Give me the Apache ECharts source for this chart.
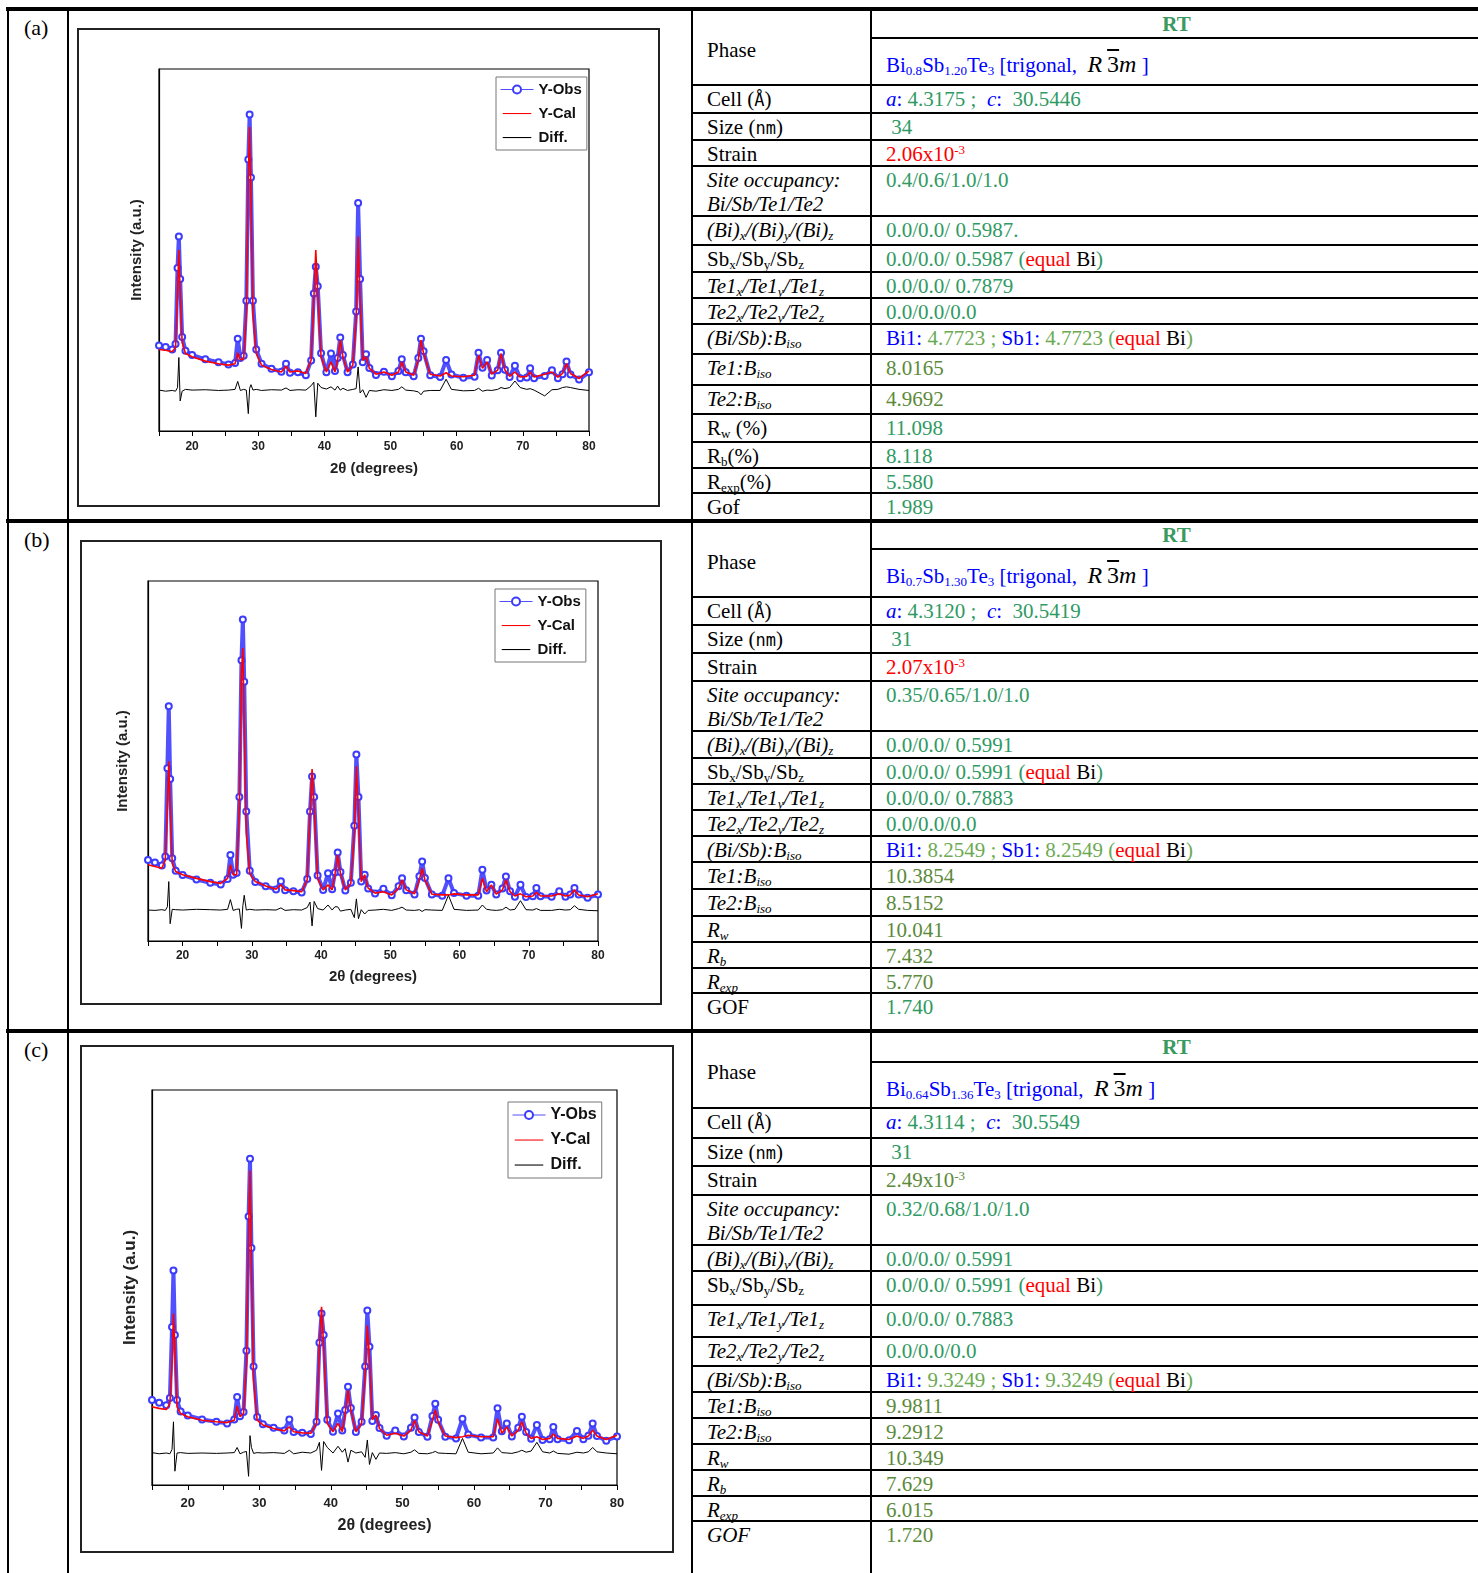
<!DOCTYPE html>
<html>
<head>
<meta charset="utf-8">
<script src="https://cdn.jsdelivr.net/npm/echarts/dist/echarts.min.js"></script>
<style>
html,body{margin:0;padding:0;background:#fff;}
#page{position:relative;width:1478px;height:1573px;overflow:hidden;background:#fff;}
.ln{position:absolute;background:#000;}
.txt{position:absolute;white-space:nowrap;font-family:"Liberation Serif","Times New Roman",serif;font-size:21px;line-height:26px;color:#000;}
.txt sub{font-size:0.62em;vertical-align:-0.22em;line-height:0;}
.txt sup{font-size:0.62em;vertical-align:0.55em;line-height:0;}
.mono{font-family:"DejaVu Sans Mono","Liberation Mono",monospace;font-size:17px;}
.frame{position:absolute;border:2px solid #222;box-sizing:border-box;pointer-events:none;}
.chart{position:absolute;}
.sg{color:#000;font-size:24px;}
</style>
</head>
<body>
<div id="page"></div>
<script>
// ---------------- DATA ----------------
// shared 2theta positions (degrees)
const X = [15,16,17,17.5,17.8,18.0,18.2,18.5,19,20,
 22,24,25.5,26.5,26.9,27.3,27.8,28.2,28.5,28.7,
 28.9,29.2,29.7,30.5,32,33.5,34.2,34.8,36,37.2,
 38.0,38.4,38.7,39.0,39.5,40.3,41.0,41.6,42.0,42.4,
 42.8,43.5,44.3,44.8,45.1,45.4,45.8,46.3,46.8,47.8,
 49.0,50.2,51.2,51.7,52.3,53.5,54.2,54.6,55.0,56.0,
 57.5,58.4,59.2,61.0,62.7,63.3,63.9,64.6,65.3,66.2,
 66.7,67.3,68.0,68.8,69.6,70.6,71.1,71.7,73.3,74.4,
 75.3,76.0,76.6,77.2,78.5,80];

// panel (a)
const obsA = [23.6,23.2,22.5,24,45,53.7,42,26,22.2,21,
 19.8,19,18.4,18.8,25.5,20.2,20.8,36,75,87.4,
 70,36,22.5,18.6,17.2,16.4,18.6,16.1,16.2,15.4,
 19.5,38,45.4,40,21.5,16.2,21.4,16.6,20.2,25.8,
 21,16.2,18.4,33,63,42,19,21.2,17.4,15.5,
 16.4,15.1,16.6,19.8,16.2,15.1,20.2,25.5,22,15.4,
 14.9,19.6,15.6,14.7,15,21.6,17.5,19.6,15.3,16.8,
 21.6,16.9,14.9,18,14.6,14.8,17.3,14.6,15.2,16.8,
 14.6,15.7,19.2,15.6,14.2,16.2];
const calA = [22.5,22.3,21.9,23.1,38,50,38,24.6,21.4,20.5,
 19.3,18.6,18.2,18.6,21.6,19.6,20,32.5,70,84,
 65.7,32.5,21.4,18.2,17,16.3,17.9,16.3,16.6,15.9,
 19.6,36.2,50,38,20.5,16.3,19.1,16.3,19.6,25.1,
 20.5,16.3,18.2,30.6,53.7,36.2,19.5,20.5,17.3,15.7,
 16.3,15.4,16.3,19.1,16.3,15.4,19.6,25.1,21.4,15.7,
 15.2,16.1,15.2,15,15.4,20.9,17.3,19.1,15.7,16.8,
 21.4,16.8,15.1,16.3,14.9,15.1,16.3,14.9,15.7,16.3,
 14.9,15.9,18.6,15.9,14.5,16.6];
const diffA = [11.3,11.0,11.2,11.0,12,20.3,8.3,11,11.5,11.3,
 11.4,11.2,11.3,11.5,13.7,11.2,11.5,11.3,4.8,11.8,
 12.8,11.3,11.5,11.2,11.4,11.3,11.9,11.2,11.4,11.3,
 12.5,13.5,3.9,13.2,12,11.6,12.2,11.3,12.4,11.3,
 11.8,11.2,11.5,11.7,17.7,10.5,11.4,9.3,11.2,11,
 11.4,11.2,11.5,12.2,11.3,11.1,10.8,10,11,11.2,
 11.2,14.3,11.5,11.1,11.2,11.8,11,11.3,11.2,11.5,
 12,11.7,12,13.8,12,11.5,11.7,11.3,9.7,11.4,
 11.5,12,12.2,12,11.5,11.2];

// panel (b)
const obsB = [22.5,21.8,21,23.5,48,65.2,45,23,19.5,18.3,
 17.1,16.2,15.7,17.2,23.9,18.4,18.9,40,78,89.3,
 72,36,19.5,16.4,15.2,14.3,16.6,14.1,13.8,13.5,
 17.2,36,45.7,40,18.2,14.2,18.8,14.4,19,24.6,
 19.2,14,16.2,32,51.8,40,16.5,18.4,14.6,13.2,
 14.5,12.7,15.2,17.4,14.1,12.9,18,22.1,17.5,12.9,
 12.6,17.4,13.3,12.6,12.6,19.8,14,15.6,12.9,14.6,
 17.9,13.8,12.3,15.6,12.2,12.4,14.7,12.4,12.3,13.8,
 12.3,12.9,14.7,12.9,12,12.9];
const calB = [21.2,20.7,20.2,22.5,37.4,49.9,37.4,21.6,19.3,18.4,
 17.4,16.5,16,17.4,21.2,18.4,18.4,37.4,74.5,81.4,
 60.6,30,18.8,16.5,15.3,14.4,15.6,14.2,14,13.7,
 17,35.5,47.8,37.4,17.4,14.2,15.6,14.2,18.4,23.9,
 18.8,14.2,16,30,48.5,35.5,16.5,18.4,14.7,13.3,
 13.7,12.8,14.7,17,14.2,13.1,17,20.2,17,13,
 12.8,12.8,13.1,12.8,12.8,17.4,13.7,15.6,13,14.2,
 17,13.7,12.5,13.1,12.3,12.5,13.5,12.5,12.5,13.1,
 12.5,12.8,14.2,12.8,12.3,13.1];
const diffB = [8.6,8.5,8.7,8.5,9.5,16.5,4.8,8.8,8.7,8.6,
 8.8,8.7,8.6,8.8,11.5,8.5,8.8,8.9,3.5,9.8,
 12.7,8.6,8.8,8.6,8.7,8.6,9.2,8.5,8.7,8.6,
 9.3,10.8,4.2,11,9,8.6,10,8.6,9.5,9.5,
 8.3,8.6,8.8,6.5,11.7,6.2,8.7,7.5,8.5,8.6,
 8.8,8.5,9,9.4,8.6,8.5,8.7,8.2,8.7,8.6,
 8.5,12.7,8.8,8.5,8.6,10,8.8,8.6,8.5,8.7,
 9.4,8.6,8.8,11.2,8.7,8.6,9,8.5,8.5,8.8,
 8.6,8.7,9.8,8.8,8.5,8.4];

// panel (c)
const obsC = [21.5,20.8,20.2,22,40,54.3,38,21.5,18.6,17.6,
 16.6,16,15.6,16.6,22.3,17.4,18.5,34,68,82.6,
 60,30,17.2,15.4,14.5,13.8,16.6,13.4,13.2,12.9,
 16,36,43.4,38,16.5,13.5,18.1,13.8,19,24.9,
 19.5,13.4,16,30,44.2,35,16.2,17.7,14.4,12.5,
 13.8,12.3,14.5,17.1,13.4,12.2,17.5,20.6,16.5,12.2,
 11.8,16.8,12.8,12,12,19.4,13.6,15.6,12.3,14.5,
 17.3,13.4,11.7,15.2,11.4,11.6,14.7,11.6,11.3,13.7,
 11.6,12.5,15.6,12.4,11.2,12.3];
const calC = [19.8,19.4,19.1,20.6,30.7,43.4,35,19.8,18.1,17.3,
 16.4,16,15.8,16.4,20,17.3,18.1,30.7,64.4,79.6,
 56,26.5,16.4,15.2,14.3,13.7,14.7,13.5,13.2,13.1,
 15.6,35,45.1,35,15.6,13.5,15.6,13.5,18.1,24,
 19,13.5,15.6,28.2,40.4,32.4,16.5,17.7,14.3,12.6,
 13.1,12.4,13.9,16.4,13.5,12.4,16.4,19,16,12.4,
 12,12.2,12.6,12.2,12.2,16.8,13.1,14.7,12.4,13.9,
 16,13.1,11.8,12.2,11.5,11.8,12.9,11.8,11.5,12.4,
 11.8,12.4,13.9,12.4,11.5,12.6];
const diffC = [8.2,7.9,8.1,7.9,9,16,3.5,8.1,8.2,8,
 8.1,8,8.1,8.2,9.5,7.9,8.3,8.5,2.2,12.5,
 9.5,8,8.2,8.1,8.2,8,8.8,7.9,8.3,8.1,
 8.8,10.8,3.7,11,9.5,8.1,9.8,8.3,9.2,5.8,
 8.8,8.1,8.4,7,11.4,5.2,8.2,6.5,8.1,8,
 8.2,7.9,8.3,8.9,8,7.9,8.2,8.5,8.1,8,
 7.9,11.8,8.3,7.9,8.1,9.4,8.2,8.1,8,8.4,
 8.8,8.3,8.6,10.8,8.4,8.1,8.6,8,7.8,8.3,
 8.1,8.4,9.5,8.4,8.1,7.9];

const xTickLabels = [20,30,40,50,60,70,80];
const seriesNames = ['Y-Obs','Y-Cal','Diff.'];
const panelLetters = ['(a)','(b)','(c)'];

// table text
const span = (c)=>(s)=>'<span style="color:'+c+'">'+s+'</span>';
const t = span('#2f9a63'), o = span('#5b8a3a'), l = span('#6caa52'), b = span('#0000ff'), r = span('#ff0000'), k = span('#000');
const sg = '<span class="sg"><i>R</i>&thinsp;<span style="text-decoration:overline">3</span><i>m</i></span>';
const formulas = [
 b('Bi<sub>0.8</sub>Sb<sub>1.20</sub>Te<sub>3</sub> [trigonal,&nbsp; ')+sg+b(' ]'),
 b('Bi<sub>0.7</sub>Sb<sub>1.30</sub>Te<sub>3</sub> [trigonal,&nbsp; ')+sg+b(' ]'),
 b('Bi<sub>0.64</sub>Sb<sub>1.36</sub>Te<sub>3</sub> [trigonal,&nbsp; ')+sg+b(' ]')
];
const commonLabels = [
 'Cell (<span class="mono">Å</span>)',
 'Size (<span class="mono">nm</span>)',
 'Strain',
 '<i>Site occupancy:<br>Bi/Sb/Te1/Te2</i>',
 '<i>(Bi)<sub>x</sub>/(Bi)<sub>y</sub>/(Bi)<sub>z</sub></i>',
 'Sb<sub>x</sub>/Sb<sub>y</sub>/Sb<sub>z</sub>',
 '<i>Te1<sub>x</sub>/Te1<sub>y</sub>/Te1<sub>z</sub></i>',
 '<i>Te2<sub>x</sub>/Te2<sub>y</sub>/Te2<sub>z</sub></i>',
 '<i>(Bi/Sb):B<sub>iso</sub></i>',
 '<i>Te1:B<sub>iso</sub></i>',
 '<i>Te2:B<sub>iso</sub></i>'];
const labelsA = commonLabels.concat(['R<sub>w</sub> (%)','R<sub>b</sub>(%)','R<sub>exp</sub>(%)','Gof']);
const labelsB = commonLabels.concat(['<i>R<sub>w</sub></i>','<i>R<sub>b</sub></i>','<i>R<sub>exp</sub></i>','GOF']);
const labelsC = commonLabels.concat(['<i>R<sub>w</sub></i>','<i>R<sub>b</sub></i>','<i>R<sub>exp</sub></i>','<i>GOF</i>']);
const cellV = (a,c)=>b('<i>a</i>:')+t(' '+a+' ;&nbsp; ')+b('<i>c</i>:')+t('&nbsp; '+c);
const bisoV = (v)=>b('Bi1:')+l(' '+v+' ; ')+b('Sb1:')+l(' '+v+' (')+r('equal')+k(' Bi')+l(')');
const sbV = (v,sp)=>t('0.0/0.0/ '+v+sp+'(')+r('equal')+k(' Bi')+t(')');
const valuesA = [cellV('4.3175','30.5446'), t('&nbsp;34'), r('2.06x10<sup>-3</sup>'), t('0.4/0.6/1.0/1.0'),
 t('0.0/0.0/ 0.5987.'), sbV('0.5987',' '), t('0.0/0.0/ 0.7879'), t('0.0/0.0/0.0'), bisoV('4.7723'),
 o('8.0165'), o('4.9692'), t('11.098'), t('8.118'), t('5.580'), t('1.989')];
const valuesB = [cellV('4.3120','30.5419'), t('&nbsp;31'), r('2.07x10<sup>-3</sup>'), t('0.35/0.65/1.0/1.0'),
 t('0.0/0.0/ 0.5991'), sbV('0.5991',' '), t('0.0/0.0/ 0.7883'), t('0.0/0.0/0.0'), bisoV('8.2549'),
 o('10.3854'), o('8.5152'), o('10.041'), o('7.432'), o('5.770'), t('1.740')];
const valuesC = [cellV('4.3114','30.5549'), t('&nbsp;31'), o('2.49x10<sup>-3</sup>'), t('0.32/0.68/1.0/1.0'),
 t('0.0/0.0/ 0.5991'), sbV('0.5991',' '), t('0.0/0.0/ 0.7883'), t('0.0/0.0/0.0'), bisoV('9.3249'),
 o('9.9811'), o('9.2912'), o('10.349'), o('7.629'), o('6.015'), o('1.720')];

// ---------------- LAYOUT ----------------
const page = document.getElementById('page');
function add(cls, css, html){const d=document.createElement('div');d.className=cls;Object.assign(d.style,css);if(html!==undefined)d.innerHTML=html;page.appendChild(d);return d;}
function hline(x1,x2,y,w){add('ln',{left:x1+'px',top:(y-w/2)+'px',width:(x2-x1)+'px',height:w+'px'});}
function vline(x,y1,y2,w){add('ln',{left:(x-w/2)+'px',top:y1+'px',width:w+'px',height:(y2-y1)+'px'});}

const tableLayouts = [
 {rows:[10,85,113,140,166,216,245,272,298,324,354,385,414,442,468,493,521], rt:38},
 {rows:[522,597,625,653,681,731,758,784,810,836,862,889,916,942,968,993,1031], rt:549},
 {rows:[1032,1108,1138,1166,1195,1245,1271,1305,1337,1366,1392,1418,1444,1470,1496,1521,1573], rt:1062}
];
const allLabels=[labelsA,labelsB,labelsC], allValues=[valuesA,valuesB,valuesC];

tableLayouts.forEach((L,p)=>{
  const R=L.rows;
  for(let i=1;i<R.length-1;i++) hline(692,1478,R[i],2);
  hline(871,1478,L.rt,2);
  add('txt',{left:'24px',top:(R[0]+5)+'px',fontSize:'22px'},panelLetters[p]);
  add('txt',{left:'707px',top:(R[0]+27)+'px'},'Phase');
  add('txt',{left:'873px',width:'607px',textAlign:'center',top:R[0]+'px',height:(L.rt-R[0])+'px',lineHeight:(L.rt-R[0])+'px',fontWeight:'bold',color:'#3a9a5f'},'RT');
  add('txt',{left:'886px',top:(L.rt+13)+'px'},formulas[p]);
  for(let i=0;i<15;i++){
    const top=R[i+1];
    const lh = (i===3)?'24px':'26px';
    const off = (i===3)?2:1;
    add('txt',{left:'707px',top:(top+off)+'px',lineHeight:lh},allLabels[p][i]);
    add('txt',{left:'886px',top:(top+off)+'px',lineHeight:lh},allValues[p][i]);
  }
});
hline(6,1478,9,4); hline(6,1478,521,4); hline(6,1478,1031,4);
vline(8,7,1573,2); vline(68,7,1573,2); vline(692,7,1573,2); vline(871,7,1573,2);

// ---------------- CHARTS ----------------
const panels = [
 {frame:[77,28,583,479], grid:{left:82,top:41,width:430,height:362}, legend:{left:419,top:49}, tick:12, xname:15, yname:15, leg:15, xgap:30, ygap:15, lab:10, obs:obsA, cal:calA, diff:diffA},
 {frame:[80,540,582,465], grid:{left:68,top:41,width:450,height:360}, legend:{left:415,top:49}, tick:12, xname:15, yname:15, leg:15, xgap:28, ygap:18, lab:9, obs:obsB, cal:calB, diff:diffB},
 {frame:[80,1045,594,508], grid:{left:72,top:45,width:465,height:395}, legend:{left:428,top:57}, tick:13, xname:16, yname:17, leg:16, xgap:33, ygap:13, lab:12, obs:obsC, cal:calC, diff:diffC}
];
const FONT = '"Liberation Sans", Arial, sans-serif';
const LINE_ICON = 'path://M0,0 M40,14 M0,6.3 L40,6.3 L40,7.8 L0,7.8 Z';
panels.forEach(P=>{
  const [fx,fy,fw,fh]=P.frame;
  const el = add('chart',{left:fx+'px',top:fy+'px',width:fw+'px',height:fh+'px'});
  add('frame',{left:fx+'px',top:fy+'px',width:fw+'px',height:fh+'px'});
  const ch = echarts.init(el,null,{renderer:'canvas'});
  const pts = (arr)=>X.map((x,i)=>[x,arr[i]]);
  ch.setOption({
    animation:false,
    grid:Object.assign({show:true,borderColor:'#000',borderWidth:1.2,backgroundColor:'transparent'},P.grid),
    legend:{data:[{name:seriesNames[0],lineStyle:{width:1},itemStyle:{borderWidth:1}},{name:seriesNames[1],icon:LINE_ICON},{name:seriesNames[2],icon:LINE_ICON}],
      orient:'vertical', left:P.legend.left, top:P.legend.top,
      itemWidth:33, itemHeight:10, itemGap:7, padding:[4,5,4,4],
      borderColor:'#777', borderWidth:1, backgroundColor:'#fff',
      textStyle:{fontFamily:FONT,fontWeight:'bold',fontSize:P.leg,color:'#111',lineHeight:P.leg+2}},
    xAxis:{type:'value',min:15,max:80,interval:5,
      name:'2\u03b8 (degrees)',nameLocation:'middle',nameGap:P.xgap,
      nameTextStyle:{fontFamily:FONT,fontWeight:'bold',fontSize:P.xname,color:'#222'},
      axisLine:{lineStyle:{color:'#000',width:1.2}},
      axisTick:{show:true,length:5,lineStyle:{color:'#000'}},
      axisLabel:{margin:P.lab,fontFamily:FONT,fontWeight:'bold',fontSize:P.tick,color:'#222',
        formatter:(v)=> xTickLabels.indexOf(v)>=0 ? String(v) : ''},
      splitLine:{show:false}},
    yAxis:{type:'value',min:0,max:100,
      name:'Intensity (a.u.)',nameLocation:'middle',nameGap:P.ygap,nameRotate:90,
      nameTextStyle:{fontFamily:FONT,fontWeight:'bold',fontSize:P.yname,color:'#222'},
      axisLine:{show:true,lineStyle:{color:'#000',width:1.2}},
      axisTick:{show:false},axisLabel:{show:false},splitLine:{show:false}},
    series:[
      {name:'Y-Obs',type:'line',data:pts(P.obs),symbol:'emptyCircle',symbolSize:6,showAllSymbol:true,
        lineStyle:{color:'#5050ff',width:4},itemStyle:{color:'#3c3cff',borderColor:'#3c3cff',borderWidth:1},z:2},
      {name:'Y-Cal',type:'line',data:pts(P.cal),symbol:'none',lineStyle:{color:'#ff0000',width:1.6},itemStyle:{color:'#ff0000'},z:3},
      {name:'Diff.',type:'line',data:pts(P.diff),symbol:'none',lineStyle:{color:'#000',width:1},itemStyle:{color:'#000'},z:3}
    ]
  });
});
</script>
</body>
</html>
